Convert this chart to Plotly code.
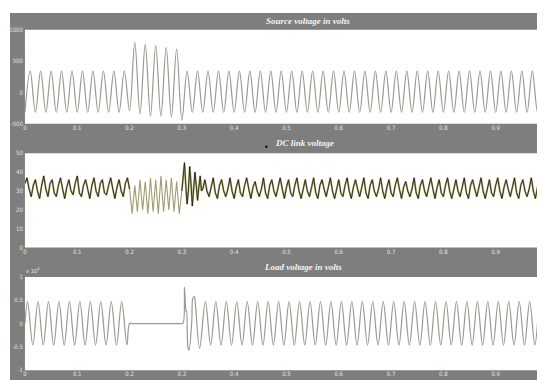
import plotly.graph_objects as go
from plotly.subplots import make_subplots

# ---------------- data ----------------
# Source voltage: extrema every 0.01 s (trough at t=0), volts
src_step = 0.01
src_v = [-315, 340, -315, 340, -315, 340, -315, 340, -315, 340,
         -315, 340, -315, 340, -315, 340, -315, 340, -315, 340,
         -290, 797, -344, 766, -375, 745, -380, 714, -390, 692,
         -440, 340, -315, 340, -315, 340, -315, 340, -315, 340,
         -315, 340, -315, 340, -315, 340, -315, 340, -315, 340,
         -315, 340, -315, 340, -315, 340, -315, 340, -315, 340,
         -315, 340, -315, 340, -315, 340, -315, 340, -315, 340,
         -315, 340, -315, 340, -315, 340, -315, 340, -315, 340,
         -315, 340, -315, 340, -315, 340, -315, 340, -315, 340,
         -315, 340, -315, 340, -315, 340, -315, 340, -315, 340,
         -315]
src_t = [round(i * src_step, 4) for i in range(len(src_v))]

# DC link voltage segments
dc_a_step = 0.004   # 0 .. 0.2
dc_a = [34, 37, 31, 27, 33, 36, 30, 26, 33, 38,
        31, 27, 34, 36, 29, 27, 33, 37, 31, 26,
        32, 36, 30, 28, 34, 38, 29, 27, 33, 36,
        31, 26, 33, 37, 30, 27, 34, 36, 29, 28,
        33, 37, 31, 26, 32, 36, 30, 27, 34, 37,
        31]
dc_b_step = 0.005   # 0.205 .. 0.295 (sag)
dc_b = [18, 33, 19, 36, 20, 35, 18, 37, 19, 36,
        18, 38, 19, 36, 20, 37, 19, 35, 18]
dc_c_step = 0.0025  # 0.3 .. 0.3375 (transient)
dc_c = [30, 38, 45, 33, 23, 30, 43, 34, 22, 31, 40, 33, 25, 32, 38, 30]
dc_d_step = 0.004   # 0.34 .. 1.0
dc_d = [31, 36, 30, 27, 32, 37, 29, 26, 33, 36,
        30, 27, 31, 37, 30, 26, 32, 36, 29, 27,
        33, 37, 31, 26, 32, 35, 30, 27, 31, 37,
        29, 26, 33, 36, 30, 27, 32, 37, 31, 26,
        32, 36, 29, 27, 33, 37, 30, 26, 31, 36,
        30, 27, 32, 37, 29, 26, 33, 36, 31, 27,
        32, 37, 30, 26, 31, 36, 29, 27, 33, 37,
        30, 26, 32, 36, 31, 27, 32, 37, 29, 26,
        33, 36, 30, 27, 31, 37, 30, 26, 32, 36,
        29, 27, 33, 37, 31, 26, 32, 35, 30, 27,
        31, 37, 29, 26, 33, 36, 30, 27, 32, 37,
        31, 26, 32, 36, 29, 27, 33, 37, 30, 26,
        31, 36, 30, 27, 32, 37, 29, 26, 33, 36,
        31, 27, 32, 37, 30, 26, 31, 36, 29, 27,
        33, 37, 30, 26, 32, 36, 31, 27, 32, 37,
        29, 26, 33, 36, 30, 27, 31, 37, 30, 26,
        32, 36, 29, 27, 33, 36]

dc_a_t = [round(i * dc_a_step, 4) for i in range(len(dc_a))]
dc_b_t = [round(0.205 + i * dc_b_step, 4) for i in range(len(dc_b))]
dc_c_t = [round(0.3 + i * dc_c_step, 4) for i in range(len(dc_c))]
dc_d_t = [round(0.34 + i * dc_d_step, 4) for i in range(len(dc_d))]

# Load voltage (volts): time / value points
load_pre_t = [0.0] + [round(0.005 + 0.01 * i, 4) for i in range(20)] + [0.2, 0.205, 0.297, 0.302]
load_pre_v = [0] + [4700, -4600] * 10 + [0, 0, 0, 0]
load_tr_t = [0.305, 0.308, 0.309, 0.3115, 0.3137, 0.319, 0.321, 0.324, 0.326, 0.334]
load_tr_v = [7800, 2600, 2800, -5000, -5700, 600, 5400, 5800, 4000, -5300]
load_post_t = [round(0.345 + 0.01 * i, 4) for i in range(66)] + [1.0]
load_post_v = [4700, -4600] * 33 + [0]

x_ticks = [0, 0.1, 0.2, 0.3, 0.4, 0.5, 0.6, 0.7, 0.8, 0.9]
x_ticktext = ["0", "0.1", "0.2", "0.3", "0.4", "0.5", "0.6", "0.7", "0.8", "0.9"]
src_yticks = [-500, 0, 500, 1000]
dc_yticks = [0, 10, 20, 30, 40, 50]
load_yticks = [-10000, -5000, 0, 5000, 10000]
load_yticktext = ["-1", "-0.5", "0", "0.5", "1"]
titles = ["Source voltage in volts", "DC link voltage", "Load voltage in volts"]

# ---------------- figure ----------------
# the page body adds an 8 px margin, so the figure is 8 px smaller and offset
OFF = 8
W, H = 545 - OFF, 383 - OFF
fig = make_subplots(rows=3, cols=1)

wave_col = "#9a9a90"
fig.add_trace(go.Scatter(x=src_t, y=src_v, mode="lines",
                         line=dict(color=wave_col, width=1.2, shape="spline"),
                         showlegend=False), row=1, col=1)

main_t = dc_a_t + [None] + dc_c_t + dc_d_t
main_v = dc_a + [None] + dc_c + dc_d
sag_t = [dc_a_t[-1]] + dc_b_t + [dc_c_t[0]]
sag_v = [dc_a[-1]] + dc_b + [dc_c[0]]
fig.add_trace(go.Scatter(x=main_t, y=main_v, mode="lines",
                         line=dict(color="#b3ad70", width=1.9),
                         showlegend=False), row=2, col=1)
fig.add_trace(go.Scatter(x=sag_t, y=sag_v, mode="lines",
                         line=dict(color="#a09c70", width=1.1),
                         showlegend=False), row=2, col=1)
fig.add_trace(go.Scatter(x=main_t, y=main_v, mode="lines",
                         line=dict(color="#15150c", width=0.8),
                         connectgaps=False, showlegend=False), row=2, col=1)

fig.add_trace(go.Scatter(x=load_pre_t + load_tr_t + load_post_t,
                         y=load_pre_v + load_tr_v + load_post_v, mode="lines",
                         line=dict(color=wave_col, width=1.2, shape="spline"),
                         showlegend=False), row=3, col=1)

# layout geometry (screen pixel based, shifted by body margin)
x0 = (23 - OFF) / W
xr = (545 - 23) / 525.0
panels = [(26, 122), (152, 248), (278, 373)]
tickfont = dict(family="Liberation Sans Narrow, DejaVu Sans Condensed, Arial", size=6, color="#e2e2e2")

yranges = [[-500, 1000], [0, 50], [-10000, 10000]]
ytv = [src_yticks, dc_yticks, load_yticks]
ytt = [[str(v) for v in src_yticks], [str(v) for v in dc_yticks], load_yticktext]


def fy(py):
    return 1 - (py - OFF) / H


def fx(px):
    return (px - OFF) / W


for i, (top, bot) in enumerate(panels):
    r = i + 1
    fig.update_xaxes(domain=[x0, 1], range=[0, xr], tickvals=x_ticks, ticktext=x_ticktext,
                     showgrid=False, zeroline=False, showline=False, ticks="",
                     tickfont=tickfont, ticklabelstandoff=-1, row=r, col=1)
    fig.update_yaxes(domain=[fy(bot), fy(top)], range=yranges[i],
                     tickvals=ytv[i], ticktext=ytt[i],
                     showgrid=False, zeroline=False, showline=False, ticks="",
                     tickfont=tickfont, ticklabelstandoff=1, row=r, col=1)

title_pos = [(307, 17), (304, 142), (302, 268)]
annotations = []
for (tx, ty), txt in zip(title_pos, titles):
    annotations.append(dict(text=txt, x=fx(tx), y=fy(ty), xref="paper", yref="paper",
                            showarrow=False, xanchor="center", yanchor="middle",
                            font=dict(family="Liberation Serif", size=9, color="#f4f4f4",
                                      style="italic", weight="bold")))
annotations.append(dict(text="x 10<sup>4</sup>", x=fx(22), y=fy(271), xref="paper", yref="paper",
                        showarrow=False, xanchor="left", yanchor="middle",
                        font=dict(family="Liberation Sans Narrow, Arial", size=6, color="#e2e2e2")))

shapes = [
    dict(type="rect", xref="paper", yref="paper", x0=0, x1=1, y0=0, y1=fy(9),
         fillcolor="#7e7e7e", line=dict(width=0), layer="below"),
]
for top, bot in panels:
    shapes.append(dict(type="rect", xref="paper", yref="paper", x0=x0, x1=1,
                       y0=fy(bot), y1=fy(top),
                       fillcolor="white", line=dict(width=0), layer="below"))
shapes.append(dict(type="circle", xref="paper", yref="paper", x0=fx(264), x1=fx(266.5),
                   y0=fy(146.5), y1=fy(144), fillcolor="#111111", line=dict(width=0)))

fig.update_layout(width=W, height=H, margin=dict(l=0, r=0, t=0, b=0),
                  paper_bgcolor="white", plot_bgcolor="white",
                  annotations=annotations, shapes=shapes, showlegend=False)

fig.write_html("out.html")
